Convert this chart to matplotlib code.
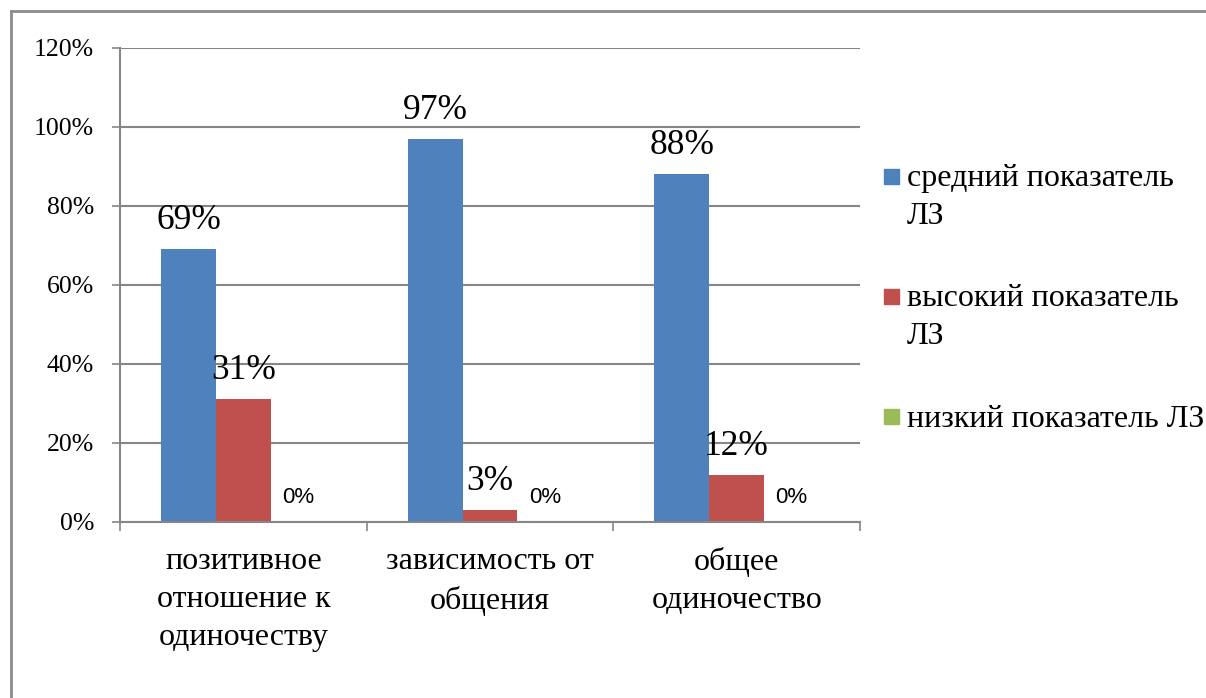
import matplotlib
matplotlib.use("Agg")
import matplotlib.pyplot as plt
import numpy as np
from matplotlib.patches import Rectangle
from matplotlib.lines import Line2D

# data
categories = ["позитивное\nотношение к\nодиночеству",
              "зависимость от\nобщения",
              "общее\nодиночество"]
series_names = ["средний показатель\nЛЗ",
                "высокий показатель\nЛЗ",
                "низкий показатель ЛЗ"]
medium = [69, 97, 88]
high = [31, 3, 12]
low = [0, 0, 0]
series_values = [medium, high, low]
colors = ["#4F81BD", "#C0504D", "#9BBB59"]
yticks = [0, 20, 40, 60, 80, 100, 120]

SERIF = "Liberation Serif"
SANS = "Liberation Sans"
GRID = "#868686"
LS = 1.42  # line spacing for wrapped labels (~37 px)

W, H = 1206, 698
fig = plt.figure(figsize=(W / 100, H / 100), dpi=100)
ax = fig.add_axes([120 / W, 1 - 522 / H, 740 / W, (522 - 47.7) / H])

x = np.arange(len(categories))
bw = 0.2222
for i, (vals, col) in enumerate(zip(series_values, colors)):
    pos = x + (i - 1) * bw
    ax.bar(pos, vals, width=bw, color=col, zorder=3)
    for px, v in zip(pos, vals):
        if v == 0:
            ax.annotate(f"{v}%", (px, v), xytext=(0, 14), textcoords="offset points",
                        ha="center", va="baseline", fontsize=16, family=SANS, zorder=4)
        else:
            ax.annotate(f"{v}%", (px, v), xytext=(0, 14.4), textcoords="offset points",
                        ha="center", va="baseline", fontsize=25.5, family=SERIF, zorder=4)

ax.set_xlim(-0.5, len(categories) - 0.5)
ax.set_ylim(0, 120)
ax.set_yticks(yticks)
ax.set_yticklabels([f"{t}%" for t in yticks], fontsize=18.5, family=SERIF)
ax.yaxis.grid(True, color=GRID, linewidth=1.5, zorder=0)
ax.tick_params(axis="y", length=5.8, width=1.2, color=GRID, pad=13)

ax.set_xticks(np.arange(len(categories) + 1) - 0.5)
ax.set_xticklabels([])
ax.set_xticks(x, minor=True)
ax.set_xticklabels(categories, minor=True, fontsize=23, family=SERIF, linespacing=LS)
ax.tick_params(axis="x", which="major", length=6.5, width=1.2, color=GRID, direction="out")
ax.tick_params(axis="x", which="minor", length=0, pad=18)

for side in ["top", "right"]:
    ax.spines[side].set_visible(False)
for side in ["left", "bottom"]:
    ax.spines[side].set_color(GRID)
    ax.spines[side].set_linewidth(1.5)
    ax.spines[side].set_zorder(5)

# legend drawn by hand so markers sit on the first line
y_base = 187  # baseline of the first line, in pixels from the top
for name, col in zip(series_names, colors):
    nlines = name.count("\n") + 1
    last_base = y_base + (nlines - 1) * 37
    fig.text(907 / W, 1 - last_base / H, name, fontsize=23, family=SERIF,
             ha="left", va="baseline", linespacing=LS)
    fig.patches.append(Rectangle((884 / W, 1 - (y_base - 3) / H), 15 / W, 15 / H,
                                 transform=fig.transFigure, color=col))
    y_base += nlines * 37 + 46

# outer frame (cut off on the right and bottom)
fig.lines.append(Line2D([11 / W, 11 / W], [0, 1 - 11 / H], transform=fig.transFigure,
                        color="#8C8C8C", linewidth=2))
fig.lines.append(Line2D([11 / W, 1], [1 - 11 / H, 1 - 11 / H], transform=fig.transFigure,
                        color="#8C8C8C", linewidth=2))

fig.savefig("out.png", dpi=100)
